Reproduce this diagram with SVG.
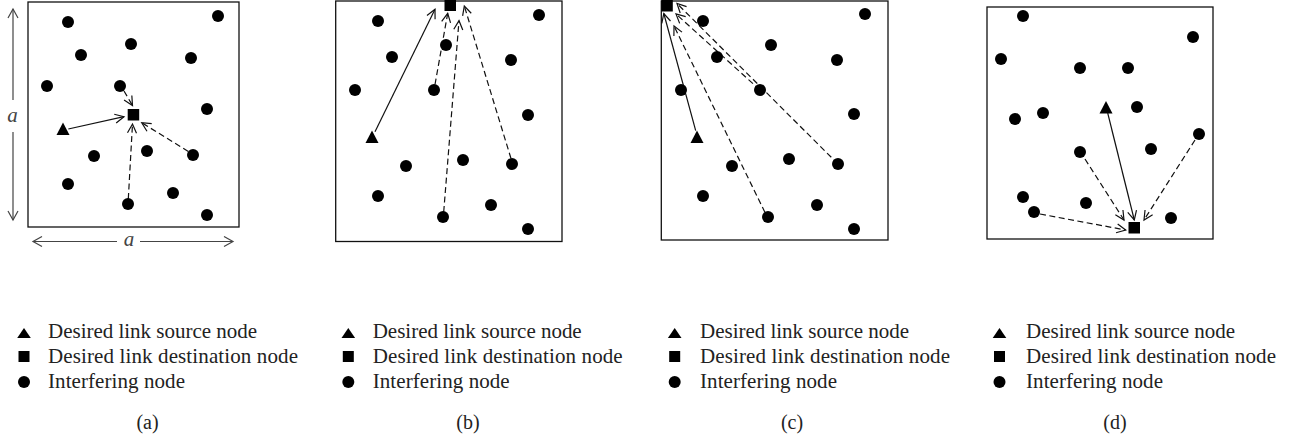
<svg xmlns="http://www.w3.org/2000/svg" width="1293" height="440" viewBox="0 0 1293 440">
<style>
.box{fill:none;stroke:#111;stroke-width:1.3}
.n{fill:#000}
.l{fill:none;stroke:#111;stroke-width:1.2;marker-end:url(#ah)}
.d{stroke-dasharray:6 3.5}
.dim{fill:none;stroke:#444;stroke-width:1.2;marker-end:url(#ahg)}
.t{font-family:"Liberation Serif","Times New Roman",serif;font-size:21px;fill:#222}
.cap{font-family:"Liberation Serif","Times New Roman",serif;font-size:20px;fill:#222;text-anchor:middle}
.it{font-family:"Liberation Serif","Times New Roman",serif;font-size:21px;font-style:italic;fill:#444;text-anchor:middle}
</style>
<defs>
<marker id="ah" viewBox="-10 -6 12 12" refX="0" refY="0" markerWidth="12" markerHeight="12" markerUnits="userSpaceOnUse" orient="auto"><path d="M-9,-4.5 L0,0 L-9,4.5" fill="none" stroke="#111" stroke-width="1.2"/></marker>
<marker id="ahg" viewBox="-10 -6 12 12" refX="0" refY="0" markerWidth="12" markerHeight="12" markerUnits="userSpaceOnUse" orient="auto"><path d="M-9,-5 L0,0 L-9,5" fill="none" stroke="#444" stroke-width="1.2"/></marker>
</defs>

<!-- Panel (a) -->
<g id="panel-a">
<rect class="box" x="28" y="2" width="211" height="225"/>
<g id="a-dim">
<path class="dim" d="M13,100 L13,9"/>
<path class="dim" d="M13,132 L13,220"/>
<path class="dim" d="M117,241.5 L33,241.5"/>
<path class="dim" d="M140,241.5 L233,241.5"/>
<text class="it" x="12.5" y="122">a</text>
<text class="it" x="129" y="246">a</text>
</g>
<g id="a-connectors">
<path class="l" d="M68.3,129 L124,116.7"/>
<path class="l d" d="M124,91 L132.5,105.5"/>
<path class="l d" d="M128.3,199 L132.5,124"/>
<path class="l d" d="M188.3,151.5 L141.7,122.7"/>
</g>
<g id="a-nodes" class="n">
<g id="a-src"><polygon points="63,122.5 56.5,135 69.5,135"/></g>
<g id="a-dst"><rect x="127.7" y="109" width="11.5" height="11.5"/></g>
<g id="a-int">
<circle cx="68" cy="22" r="6"/><circle cx="218" cy="16" r="6"/><circle cx="131" cy="44" r="6"/>
<circle cx="81" cy="55" r="6"/><circle cx="191" cy="58" r="6"/><circle cx="47" cy="86" r="6"/>
<circle cx="120" cy="86" r="6"/><circle cx="207" cy="109" r="6"/><circle cx="94" cy="156" r="6"/>
<circle cx="147" cy="151" r="6"/><circle cx="193" cy="155" r="6"/><circle cx="68" cy="184" r="6"/>
<circle cx="173" cy="193" r="6"/><circle cx="128" cy="204" r="6"/><circle cx="207" cy="215" r="6"/>
</g>
</g>
</g>

<!-- Panel (b) -->
<g id="panel-b">
<rect class="box" x="335.7" y="1" width="226.3" height="240.5"/>
<g id="b-connectors">
<path class="l" d="M375,131.7 L435,9.3"/>
<path class="l d" d="M435,84.5 L447.7,13.3"/>
<path class="l d" d="M443.7,212 L459,20.7"/>
<path class="l d" d="M511,158.5 L464.3,6"/>
</g>
<g id="b-nodes" class="n">
<g id="b-src"><polygon points="372,130.5 365.5,143 378.5,143"/></g>
<g id="b-dst"><rect x="444.5" y="0" width="11.5" height="11"/></g>
<g id="b-int">
<circle cx="378" cy="21" r="6"/><circle cx="539" cy="15" r="6"/><circle cx="446" cy="45" r="6"/>
<circle cx="392" cy="57" r="6"/><circle cx="511" cy="60" r="6"/><circle cx="355" cy="90" r="6"/>
<circle cx="434" cy="90" r="6"/><circle cx="528" cy="115" r="6"/><circle cx="463" cy="160" r="6"/>
<circle cx="406" cy="166" r="6"/><circle cx="512" cy="164" r="6"/><circle cx="378" cy="196" r="6"/>
<circle cx="491" cy="205" r="6"/><circle cx="443" cy="217" r="6"/><circle cx="528" cy="229" r="6"/>
</g>
</g>
</g>

<!-- Panel (c) -->
<g id="panel-c">
<rect class="box" x="661.3" y="1" width="226.7" height="239"/>
<g id="c-connectors">
<path class="l" d="M695.7,130.7 L663.8,13.5"/>
<path class="l d" d="M765,212.5 L674,26"/>
<path class="l d" d="M760,90 L676,14"/>
<path class="l d" d="M838,164 L677,3.5"/>
</g>
<g id="c-nodes" class="n">
<g id="c-src"><polygon points="697,130.5 690.5,143 703.5,143"/></g>
<g id="c-dst"><rect x="661.3" y="0" width="11.5" height="11.5"/></g>
<g id="c-int">
<circle cx="703" cy="21" r="6"/><circle cx="865" cy="14" r="6"/><circle cx="771" cy="45" r="6"/>
<circle cx="717" cy="57" r="6"/><circle cx="837" cy="60" r="6"/><circle cx="681" cy="90" r="6"/>
<circle cx="760" cy="90" r="6"/><circle cx="854" cy="114" r="6"/><circle cx="789" cy="159" r="6"/>
<circle cx="732" cy="166" r="6"/><circle cx="838" cy="164" r="6"/><circle cx="703" cy="196" r="6"/>
<circle cx="817" cy="205" r="6"/><circle cx="768" cy="217" r="6"/><circle cx="854" cy="229" r="6"/>
</g>
</g>
</g>

<!-- Panel (d) -->
<g id="panel-d">
<rect class="box" x="987" y="7" width="226" height="232"/>
<g id="d-connectors">
<path class="l" d="M1107.7,113 L1134.3,220"/>
<path class="l d" d="M1085,159 L1124,220"/>
<path class="l d" d="M1195,140 L1144,220"/>
<path class="l d" d="M1040,214 L1125.7,230"/>
</g>
<g id="d-nodes" class="n">
<g id="d-src"><polygon points="1106,101 1099.5,113.5 1112.5,113.5"/></g>
<g id="d-dst"><rect x="1128.5" y="222" width="11.5" height="11.5"/></g>
<g id="d-int">
<circle cx="1023" cy="16" r="6"/><circle cx="1193" cy="37" r="6"/><circle cx="1001" cy="59" r="6"/>
<circle cx="1080" cy="68" r="6"/><circle cx="1128" cy="68" r="6"/><circle cx="1137" cy="107" r="6"/>
<circle cx="1043" cy="113" r="6"/><circle cx="1015" cy="119" r="6"/><circle cx="1199" cy="134" r="6"/>
<circle cx="1151" cy="149" r="6"/><circle cx="1080" cy="152" r="6"/><circle cx="1023" cy="197" r="6"/>
<circle cx="1086" cy="203" r="6"/><circle cx="1034" cy="212" r="6"/><circle cx="1171" cy="218" r="6"/>
</g>
</g>
</g>

<!-- Legends -->
<g id="legend-a">
<polygon class="n" points="24,328 17.2,338 30.8,338"/>
<rect class="n" x="18.5" y="351" width="11" height="11"/>
<circle class="n" cx="24" cy="382" r="6"/>
<text class="t" x="48" y="337.5" textLength="209" lengthAdjust="spacing">Desired link source node</text>
<text class="t" x="48" y="362.5" textLength="250" lengthAdjust="spacing">Desired link destination node</text>
<text class="t" x="48" y="387.5" textLength="137" lengthAdjust="spacing">Interfering node</text>
<text class="cap" x="147.5" y="429">(a)</text>
</g>
<g id="legend-b">
<polygon class="n" points="348.3,328 341.5,338 355.1,338"/>
<rect class="n" x="342.8" y="351" width="11" height="11"/>
<circle class="n" cx="348.3" cy="382" r="6"/>
<text class="t" x="372.7" y="337.5" textLength="209" lengthAdjust="spacing">Desired link source node</text>
<text class="t" x="372.7" y="362.5" textLength="250" lengthAdjust="spacing">Desired link destination node</text>
<text class="t" x="372.7" y="387.5" textLength="137" lengthAdjust="spacing">Interfering node</text>
<text class="cap" x="468" y="429">(b)</text>
</g>
<g id="legend-c">
<polygon class="n" points="674.7,328 667.9,338 681.5,338"/>
<rect class="n" x="669.2" y="351" width="11" height="11"/>
<circle class="n" cx="674.7" cy="382" r="6"/>
<text class="t" x="700" y="337.5" textLength="209" lengthAdjust="spacing">Desired link source node</text>
<text class="t" x="700" y="362.5" textLength="250" lengthAdjust="spacing">Desired link destination node</text>
<text class="t" x="700" y="387.5" textLength="137" lengthAdjust="spacing">Interfering node</text>
<text class="cap" x="792" y="429">(c)</text>
</g>
<g id="legend-d">
<polygon class="n" points="999.5,328 992.7,338 1006.3,338"/>
<rect class="n" x="994" y="351" width="11" height="11"/>
<circle class="n" cx="999.5" cy="382" r="6"/>
<text class="t" x="1026" y="337.5" textLength="209" lengthAdjust="spacing">Desired link source node</text>
<text class="t" x="1026" y="362.5" textLength="250" lengthAdjust="spacing">Desired link destination node</text>
<text class="t" x="1026" y="387.5" textLength="137" lengthAdjust="spacing">Interfering node</text>
<text class="cap" x="1115" y="429">(d)</text>
</g>
</svg>
